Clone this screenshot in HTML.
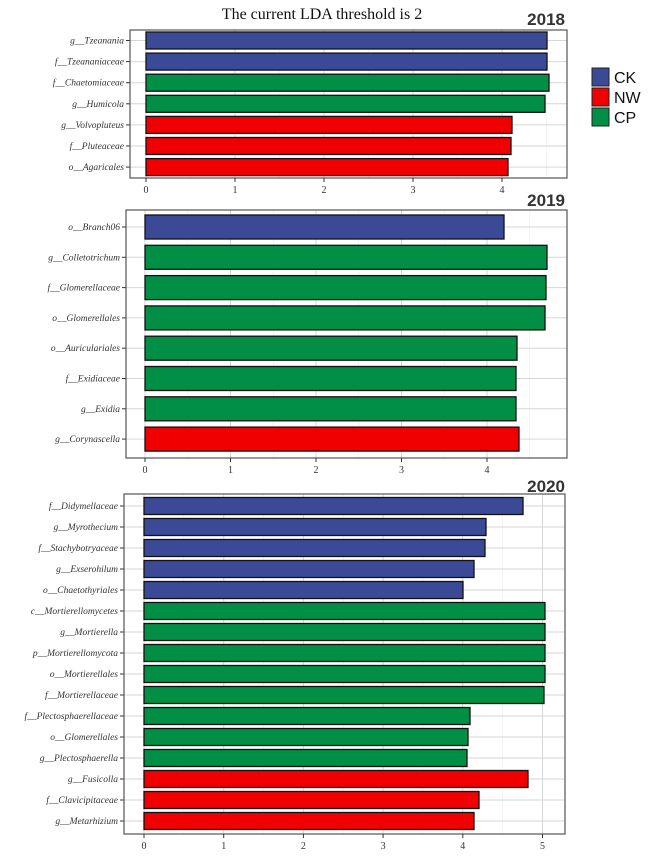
<!DOCTYPE html>
<html><head><meta charset="utf-8"><style>
html,body{margin:0;padding:0;background:#fff;}
svg{display:block;}
.lab{font-family:"Liberation Serif",serif;font-style:italic;font-size:9.5px;fill:#333;text-anchor:end;}
.tk{font-family:"Liberation Serif",serif;font-size:10px;fill:#333;text-anchor:middle;}
.yr{font-family:"Liberation Sans",sans-serif;font-weight:bold;font-size:17px;fill:#333;text-anchor:end;}
.lg{font-family:"Liberation Sans",sans-serif;font-size:16px;fill:#111;}
</style></head><body>
<svg id="s" width="658" height="868" xmlns="http://www.w3.org/2000/svg">
<text x="322" y="19" style="font-family:'Liberation Serif',serif;font-size:16px;fill:#111" text-anchor="middle">The current LDA threshold is 2</text>
<text class="yr" x="565" y="25">2018</text>
<text class="yr" x="565" y="206">2019</text>
<text class="yr" x="565" y="492">2020</text>
<g id="p1"></g><g id="p2"></g><g id="p3"></g>
<rect x="592" y="68" width="17" height="18" fill="#3b4a96" stroke="#222" stroke-width="1"/>
<rect x="592" y="88" width="17" height="18" fill="#f00000" stroke="#222" stroke-width="1"/>
<rect x="592" y="108" width="17" height="18" fill="#008f45" stroke="#222" stroke-width="1"/>
<text class="lg" x="614" y="83">CK</text>
<text class="lg" x="614" y="103">NW</text>
<text class="lg" x="614" y="123">CP</text>
</svg>
<script>
var C={B:"#3b4a96",R:"#f00000",G:"#008f45"};
function panel(id,bx0,bx1,by0,by1,x0,k,maxT,h,cy0,dy,bars){
 var g=document.getElementById(id),s='';
 s+='<rect x="'+bx0+'" y="'+by0+'" width="'+(bx1-bx0)+'" height="'+(by1-by0)+'" fill="#fff"/>';
 for(var v=0;v<=6;v+=0.5){var x=x0+v*k;if(x>bx1-1)break;
  s+='<line x1="'+x+'" y1="'+by0+'" x2="'+x+'" y2="'+by1+'" stroke="'+(v%1?"#ececec":"#d6d6d6")+'" stroke-width="'+(v%1?0.6:1)+'"/>';}
 bars.forEach(function(b,i){var cy=cy0+i*dy;
  s+='<line x1="'+bx0+'" y1="'+cy+'" x2="'+bx1+'" y2="'+cy+'" stroke="#d6d6d6"/>';});
 bars.forEach(function(b,i){var cy=cy0+i*dy;
  s+='<rect x="'+x0+'" y="'+(cy-h/2)+'" width="'+b[1]+'" height="'+h+'" fill="'+C[b[2]]+'" stroke="#111" stroke-width="1.3"/>';
  s+='<line x1="'+(bx0-4)+'" y1="'+cy+'" x2="'+bx0+'" y2="'+cy+'" stroke="#333"/>';
  s+='<text class="lab" x="'+(bx0-6)+'" y="'+(cy+3)+'">'+b[0]+'</text>';});
 s+='<rect x="'+bx0+'" y="'+by0+'" width="'+(bx1-bx0)+'" height="'+(by1-by0)+'" fill="none" stroke="#555" stroke-width="1.2"/>';
 for(var t=0;t<=maxT;t++){var x=x0+t*k;
  s+='<line x1="'+x+'" y1="'+by1+'" x2="'+x+'" y2="'+(by1+4)+'" stroke="#333"/>';
  s+='<text class="tk" x="'+x+'" y="'+(by1+15)+'">'+t+'</text>';}
 g.innerHTML=s;
}
panel("p1",130,567,30,178,146,89,4,17,40.5,21.1,[
["g__Tzeanania",401,"B"],["f__Tzeananiaceae",401,"B"],["f__Chaetomiaceae",403,"G"],["g__Humicola",399,"G"],
["g__Volvopluteus",366,"R"],["f__Pluteaceae",365,"R"],["o__Agaricales",362,"R"]]);
panel("p2",126,567,210,458,145,85.5,4,24,227,30.3,[
["o__Branch06",359,"B"],["g__Colletotrichum",402,"G"],["f__Glomerellaceae",401,"G"],["o__Glomerellales",400,"G"],
["o__Auriculariales",372,"G"],["f__Exidiaceae",371,"G"],["g__Exidia",371,"G"],["g__Corynascella",374,"R"]]);
panel("p3",124,565,494,834,144,79.7,5,17,506,21,[
["f__Didymellaceae",379,"B"],["g__Myrothecium",342,"B"],["f__Stachybotryaceae",341,"B"],["g__Exserohilum",330,"B"],
["o__Chaetothyriales",319,"B"],["c__Mortierellomycetes",401,"G"],["g__Mortierella",401,"G"],["p__Mortierellomycota",401,"G"],
["o__Mortierellales",401,"G"],["f__Mortierellaceae",400,"G"],["f__Plectosphaerellaceae",326,"G"],["o__Glomerellales",324,"G"],
["g__Plectosphaerella",323,"G"],["g__Fusicolla",384,"R"],["f__Clavicipitaceae",335,"R"],["g__Metarhizium",330,"R"]]);
</script>
</body></html>
